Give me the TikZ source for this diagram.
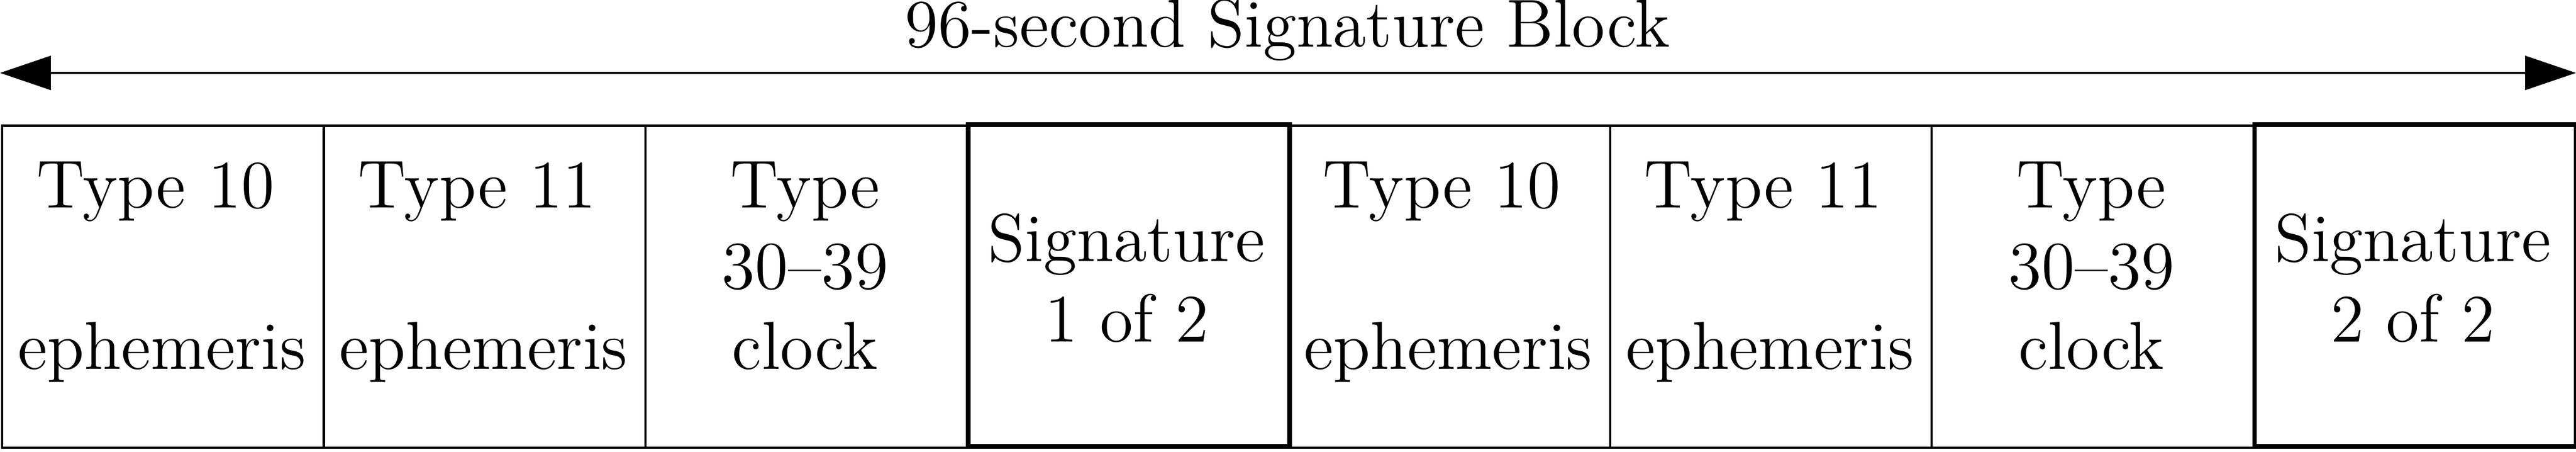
\documentclass[tikz,border=0pt]{standalone}
\usepackage{fontspec}
\usetikzlibrary{arrows.meta}
\tikzset{
  cell/.style={draw, line width=0.4pt, rectangle, minimum width=2cm, minimum height=2cm, inner sep=0pt, anchor=south west},
  sigcell/.style={cell, line width=0.8pt},
  lbl/.style={anchor=base, inner sep=0pt, font=\large},
  span/.style={line width=0.4pt, {Triangle[length=9pt,width=6pt]}-{Triangle[length=9pt,width=6pt]}}
}
\begin{document}
\begin{tikzpicture}
\path[use as bounding box] (-0.007,-0.019) rectangle (16.014,2.788);
% thin cells
\node[cell] (b1) at (0,0) {};
\node[cell] (b2) at (2,0) {};
\node[cell] (b3) at (4,0) {};
\node[cell] (b5) at (8,0) {};
\node[cell] (b6) at (10,0) {};
\node[cell] (b7) at (12,0) {};
% signature cells (thick)
\node[sigcell] (b4) at (6,0) {};
\node[sigcell] (b8) at (14,0) {};
% labels
\node[lbl] (t1a) at (0.96,1.496) {Type 10};
\node[lbl] (t1b) at (1,0.496) {ephemeris};
\node[lbl] (t2a) at (2.96,1.496) {Type 11};
\node[lbl] (t2b) at (3,0.496) {ephemeris};
\node[lbl] (t3a) at (5,1.496) {Type};
\node[lbl] (t3b) at (5,0.993) {30--39};
\node[lbl] (t3c) at (5,0.496) {clock};
\node[lbl] (t4a) at (7,1.163) {Signature};
\node[lbl] (t4b) at (7,0.663) {1 of 2};
\node[lbl] (t5a) at (8.96,1.496) {Type 10};
\node[lbl] (t5b) at (9,0.496) {ephemeris};
\node[lbl] (t6a) at (10.96,1.496) {Type 11};
\node[lbl] (t6b) at (11,0.496) {ephemeris};
\node[lbl] (t7a) at (13,1.496) {Type};
\node[lbl] (t7b) at (13,0.993) {30--39};
\node[lbl] (t7c) at (13,0.496) {clock};
\node[lbl] (t8a) at (15,1.163) {Signature};
\node[lbl] (t8b) at (15,0.663) {2 of 2};
% title and span arrow
\node[lbl] (title) at (8,2.495) {96-second Signature Block};
\coordinate (aL) at (-0.007,2.335);
\coordinate (aR) at (16.014,2.335);
\draw[span] (aL) -- (aR);
\end{tikzpicture}
\end{document}
